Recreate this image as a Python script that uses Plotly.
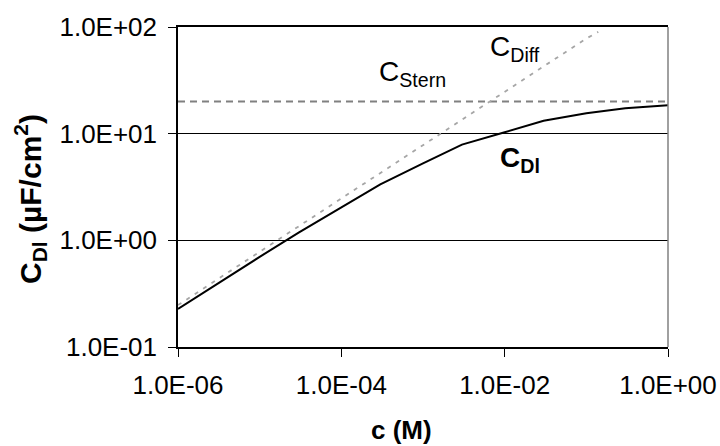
import plotly.graph_objects as go

# Data
c_dl = [1e-6, 3e-6, 1e-5, 3e-5, 1e-4, 3e-4, 1e-3, 3e-3, 1e-2, 3e-2, 1e-1, 3e-1, 1.0]
C_dl = [0.227, 0.39, 0.70, 1.18, 2.05, 3.35, 5.26, 7.9, 10.3, 13.2, 15.5, 17.3, 18.5]

c_diff = [1e-6, 1e-5, 1e-4, 1e-3, 1e-2, 1e-1, 0.14]
C_diff = [0.247, 0.78, 2.47, 7.8, 24.7, 78.0, 90.0]

c_stern = [1e-6, 1.0]
C_stern = [20.0, 20.0]

x_ticks = [1e-6, 1e-4, 1e-2, 1.0]
x_ticktext = ["1.0E-06", "1.0E-04", "1.0E-02", "1.0E+00"]
y_ticks = [0.1, 1.0, 10.0, 100.0]
y_ticktext = ["1.0E-01", "1.0E+00", "1.0E+01", "1.0E+02"]

FONT = "Liberation Sans, Arial, sans-serif"

L, R, T, B = 178, 668, 27, 347
PW, PH = R - L, B - T


def px(x):
    return (x - L) / PW


def py(y):
    return (B - y) / PH


fig = go.Figure()
fig.add_trace(go.Scatter(x=c_stern, y=C_stern, mode="lines",
                         line=dict(color="#808080", width=2, dash="7px,5px"),
                         showlegend=False, hoverinfo="skip"))
fig.add_trace(go.Scatter(x=c_diff, y=C_diff, mode="lines",
                         line=dict(color="#a6a6a6", width=1.8, dash="4px,6px"),
                         showlegend=False, hoverinfo="skip"))
fig.add_trace(go.Scatter(x=c_dl, y=C_dl, mode="lines",
                         line=dict(color="black", width=2),
                         showlegend=False))

fig.update_layout(
    width=720, height=446,
    margin=dict(l=L, r=720 - R, t=T, b=446 - B, autoexpand=False),
    paper_bgcolor="white", plot_bgcolor="white",
    font=dict(family=FONT, size=26, color="black"),
)
fig.update_xaxes(type="log", range=[-6, 0], tickvals=x_ticks, ticktext=x_ticktext,
                 showgrid=False, showline=True, linecolor="black", linewidth=1.5,
                 mirror=True, ticks="outside", ticklen=8, tickcolor="black",
                 tickfont=dict(size=26), zeroline=False, automargin=False,
                 ticklabelstandoff=6)
fig.update_yaxes(type="log", range=[-1, 2], tickvals=y_ticks, ticktext=y_ticktext,
                 showgrid=True, gridcolor="black", gridwidth=1,
                 showline=True, linecolor="black", linewidth=1.5,
                 ticks="outside", ticklen=8, tickcolor="black",
                 tickfont=dict(size=26), zeroline=False, automargin=False,
                 ticklabelstandoff=6)

# right border (gray)
fig.add_shape(type="line", xref="paper", yref="paper", x0=1, x1=1, y0=0, y1=1,
              line=dict(color="#808080", width=1.5))

# axis titles
fig.add_annotation(text="<b>c (M)</b>", xref="paper", yref="paper",
                   x=px(401), y=py(413),
                   showarrow=False, font=dict(size=26), xanchor="center", yanchor="top")
fig.add_annotation(text="<b>C<sub>Dl</sub> (µF/cm<sup>2</sup>)</b>", xref="paper", yref="paper",
                   x=px(30), y=py(199), textangle=-90,
                   showarrow=False, font=dict(size=30), xanchor="center", yanchor="middle")

# curve labels
fig.add_annotation(text="C<sub>Stern</sub>", xref="paper", yref="paper", x=px(412), y=py(73),
                   showarrow=False, font=dict(size=28), xanchor="center", yanchor="middle")
fig.add_annotation(text="C<sub>Diff</sub>", xref="paper", yref="paper", x=px(515), y=py(49),
                   showarrow=False, font=dict(size=28), xanchor="center", yanchor="middle")
fig.add_annotation(text="<b>C<sub>Dl</sub></b>", xref="paper", yref="paper", x=px(520), y=py(159),
                   showarrow=False, font=dict(size=28), xanchor="center", yanchor="middle")

fig.write_html("out.html")
